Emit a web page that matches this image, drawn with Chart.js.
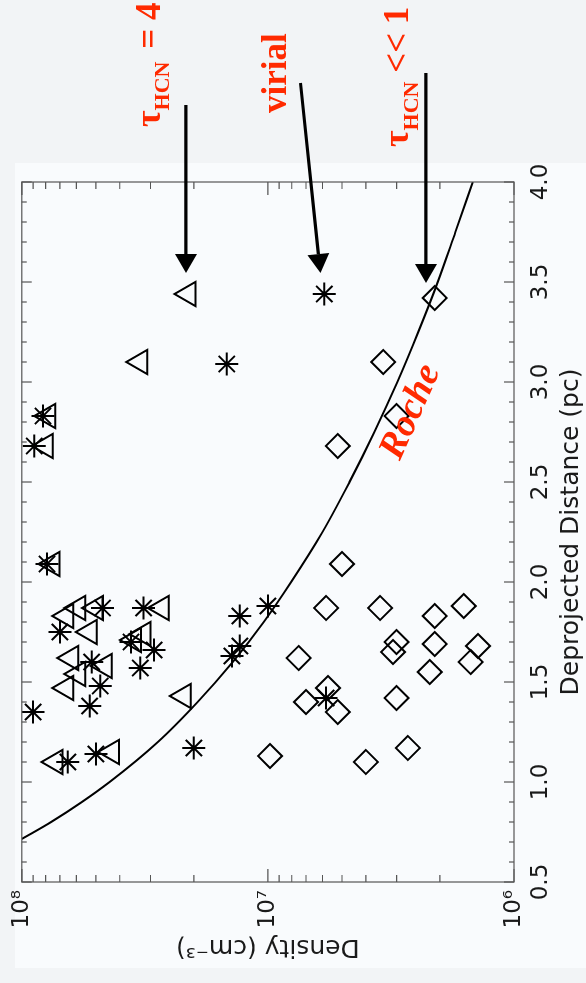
<!DOCTYPE html>
<html>
<head>
<meta charset="utf-8">
<title>Density vs deprojected distance</title>
<script src="https://cdn.jsdelivr.net/npm/chart.js@4.4.1/dist/chart.umd.min.js"></script>
<style>
  html, body { margin: 0; padding: 0; background: #f2f4f6; overflow: hidden; }
  body { width: 586px; height: 983px; position: relative; }
  /* the plot is drawn upright on a 983x586 canvas and turned a quarter left */
  #turn { position: absolute; left: 0; top: 0; width: 983px; height: 586px;
          transform-origin: 0 0; transform: translate(0, 983px) rotate(-90deg); }
</style>
</head>
<body>
<div id="turn"><canvas id="plot" width="983" height="586"></canvas></div>
<script>
// deprojected distance (pc) and density (cm^-3)
var triDist = [3.44, 3.10, 2.83, 2.68, 2.09, 1.87, 1.87, 1.87, 1.83, 1.75, 1.71, 1.74, 1.62, 1.58, 1.54, 1.47, 1.43, 1.15, 1.10];
var triDens = [2.1e7, 3.3e7, 7.8e7, 8.0e7, 7.5e7, 5.9e7, 5.0e7, 2.7e7, 6.6e7, 5.3e7, 3.5e7, 3.2e7, 6.3e7, 4.6e7, 5.9e7, 6.6e7, 2.2e7, 4.3e7, 7.3e7];

var astDist = [3.44, 3.09, 2.83, 2.68, 2.09, 1.87, 1.87, 1.88, 1.83, 1.75, 1.70, 1.68, 1.66, 1.63, 1.60, 1.57, 1.48, 1.42, 1.38, 1.35, 1.17, 1.14, 1.10];
var astDens = [5.9e6, 1.47e7, 8.2e7, 8.9e7, 7.9e7, 4.7e7, 3.2e7, 1.0e7, 1.3e7, 7.0e7, 3.6e7, 1.3e7, 2.9e7, 1.4e7, 5.2e7, 3.3e7, 4.8e7, 5.8e6, 5.3e7, 9.0e7, 2.0e7, 5.0e7, 6.5e7];

var diaDist = [3.42, 3.10, 2.83, 2.68, 2.09, 1.88, 1.87, 1.87, 1.83, 1.70, 1.69, 1.68, 1.65, 1.62, 1.60, 1.55, 1.47, 1.42, 1.40, 1.35, 1.17, 1.13, 1.10];
var diaDens = [2.1e6, 3.4e6, 3.0e6, 5.2e6, 5.0e6, 1.6e6, 5.8e6, 3.5e6, 2.1e6, 3.0e6, 2.1e6, 1.4e6, 3.1e6, 7.5e6, 1.5e6, 2.2e6, 5.7e6, 3.0e6, 7.0e6, 5.2e6, 2.7e6, 9.8e6, 4.0e6];

// Roche limit curve
var rocheDist = [0.715, 0.8, 0.9, 1.0, 1.2, 1.4, 1.6, 1.8, 2.0, 2.25, 2.5, 2.75, 3.0, 3.25, 3.5, 3.75, 4.0];
var rocheDens = [1.0e8, 7.6e7, 5.7e7, 4.4e7, 2.8e7, 1.93e7, 1.39e7, 1.04e7, 8.05e6, 6.0e6, 4.66e6, 3.69e6, 2.98e6, 2.45e6, 2.04e6, 1.73e6, 1.47e6];

var distTicks = [0.5, 1.0, 1.5, 2.0, 2.5, 3.0, 3.5, 4.0];
var densTicks = [1e6, 1e7, 1e8];

var sup = { 6: '\u2076', 7: '\u2077', 8: '\u2078' };
var ink = '#1a1a1a';
var red = '#ff2a00';
var sans = 'DejaVu Sans';

function pts(xs, ys) {
  return xs.map(function (v, i) { return { x: v, y: ys[i] }; });
}

var background = {
  id: 'background',
  beforeDraw: function (chart) {
    var ctx = chart.ctx;
    ctx.save();
    ctx.fillStyle = '#f2f4f6';
    ctx.fillRect(0, 0, chart.width, chart.height);
    ctx.fillStyle = '#f9fbfd';
    ctx.fillRect(15, 15, 805, chart.height - 15);
    ctx.restore();
  }
};

// frame with inward ticks on all four sides
var frame = {
  id: 'frame',
  afterDatasetsDraw: function (chart) {
    var ctx = chart.ctx, a = chart.chartArea;
    var x = chart.scales.x, y = chart.scales.y;
    ctx.save();
    ctx.strokeStyle = '#555';
    ctx.lineWidth = 1.2;
    ctx.strokeRect(a.left, a.top, a.right - a.left, a.bottom - a.top);
    ctx.beginPath();
    for (var i = 5; i <= 40; i++) {
      var px = x.getPixelForValue(i / 10);
      var len = (i % 5 === 0) ? 10 : 5;
      ctx.moveTo(px, a.bottom); ctx.lineTo(px, a.bottom - len);
      ctx.moveTo(px, a.top); ctx.lineTo(px, a.top + len);
    }
    for (var e = 6; e <= 8; e++) {
      for (var m = 1; m <= 9; m++) {
        if (e === 8 && m > 1) break;
        var py = y.getPixelForValue(m * Math.pow(10, e));
        var l2 = (m === 1) ? 13 : 7;
        ctx.moveTo(a.left, py); ctx.lineTo(a.left + l2, py);
        ctx.moveTo(a.right, py); ctx.lineTo(a.right - l2, py);
      }
    }
    ctx.stroke();
    ctx.restore();
  }
};

function arrow(ctx, x0, y0, x1, y1) {
  var ang = Math.atan2(y1 - y0, x1 - x0);
  var hl = 19, hw = 11;
  var bx = x1 - Math.cos(ang) * hl, by = y1 - Math.sin(ang) * hl;
  ctx.beginPath();
  ctx.moveTo(x0, y0); ctx.lineTo(bx, by);
  ctx.stroke();
  ctx.beginPath();
  ctx.moveTo(x1, y1);
  ctx.lineTo(bx - Math.sin(ang) * hw, by + Math.cos(ang) * hw);
  ctx.lineTo(bx + Math.sin(ang) * hw, by - Math.cos(ang) * hw);
  ctx.closePath();
  ctx.fill();
}

function label(ctx, x0, y0, parts) {
  var cx = x0;
  parts.forEach(function (p) {
    ctx.font = (p.style || 'bold') + ' ' + p.size + 'px "Liberation Serif"';
    ctx.fillText(p.text, cx, y0 + (p.dy || 0));
    cx += ctx.measureText(p.text).width + (p.gap || 0);
  });
}

var notes = {
  id: 'notes',
  afterDraw: function (chart) {
    var ctx = chart.ctx;
    var x = chart.scales.x, y = chart.scales.y;
    function X(v) { return x.getPixelForValue(v); }
    function Y(v) { return y.getPixelForValue(v); }
    ctx.save();
    ctx.strokeStyle = '#000';
    ctx.fillStyle = '#000';
    ctx.lineWidth = 3.2;
    arrow(ctx, X(4.385), Y(2.154e7), X(3.545), Y(2.154e7));
    arrow(ctx, X(4.495), Y(7.37e6), X(3.545), Y(6.12e6));
    arrow(ctx, X(4.545), Y(2.28e6), X(3.495), Y(2.28e6));

    ctx.fillStyle = red;
    ctx.textBaseline = 'alphabetic';
    ctx.textAlign = 'left';
    label(ctx, X(4.275), Y(2.75e7), [
      { text: '\u03c4', size: 36 },
      { text: 'HCN', size: 22, dy: 9, gap: 4 },
      { text: ' = 4', size: 35 }
    ]);
    label(ctx, X(4.345), Y(8.47e6), [{ text: 'virial', size: 35 }]);
    label(ctx, X(4.175), Y(2.69e6), [
      { text: '\u03c4', size: 36 },
      { text: 'HCN', size: 22, dy: 10 },
      { text: ' << 1', size: 35 }
    ]);

    // "Roche" runs along the curve, just below it
    var cx = X(2.85), cy = Y(2.62e6);
    ctx.translate(cx, cy);
    ctx.rotate(24 * Math.PI / 180);
    ctx.font = 'italic bold 38px "Liberation Serif"';
    ctx.textAlign = 'center';
    ctx.textBaseline = 'middle';
    ctx.fillText('Roche', 0, 0);
    ctx.restore();
  }
};

var marker = { borderColor: '#000', backgroundColor: 'rgba(0,0,0,0)', borderWidth: 2, showLine: false };

new Chart(document.getElementById('plot'), {
  type: 'scatter',
  data: {
    datasets: [
      { label: 'Roche', data: pts(rocheDist, rocheDens), showLine: true, pointRadius: 0,
        borderColor: '#000', borderWidth: 2, fill: false, cubicInterpolationMode: 'monotone' },
      Object.assign({ label: 'tau = 4', data: pts(triDist, triDens), pointStyle: 'triangle', pointRadius: 14 }, marker),
      Object.assign({ label: 'virial', data: pts(astDist, astDens), pointStyle: 'star', pointRadius: 11.5 }, marker),
      Object.assign({ label: 'tau << 1', data: pts(diaDist, diaDens), pointStyle: 'rectRot', pointRadius: 12 }, marker)
    ]
  },
  options: {
    responsive: false,
    animation: false,
    layout: { padding: { top: 16, right: 182, left: 0, bottom: 0 } },
    plugins: { legend: { display: false }, tooltip: { enabled: false } },
    scales: {
      x: {
        type: 'linear', min: 0.5, max: 4.0, position: 'bottom',
        afterBuildTicks: function (s) { s.ticks = distTicks.map(function (v) { return { value: v }; }); },
        afterFit: function (s) { s.height = 72; },
        ticks: { callback: function (v) { return Number(v).toFixed(1); }, color: ink,
                 font: { family: sans, size: 23 }, padding: 13, maxRotation: 0, autoSkip: false },
        grid: { display: false, drawTicks: false },
        border: { display: false },
        title: { display: true, text: 'Deprojected Distance (pc)', color: ink,
                 font: { family: sans, size: 25 }, padding: { top: 0, bottom: 0 } }
      },
      y: {
        type: 'logarithmic', min: 1e6, max: 1e8, position: 'left',
        afterBuildTicks: function (s) { s.ticks = densTicks.map(function (v) { return { value: v }; }); },
        afterFit: function (s) { s.width = 101; },
        ticks: { callback: function (v) { return '10' + sup[Math.round(Math.log10(v))]; }, color: ink,
                 font: { family: sans, size: 23 }, padding: 8, autoSkip: false },
        grid: { display: false, drawTicks: false },
        border: { display: false },
        title: { display: true, text: 'Density (cm\u207b\u00b3)', color: ink,
                 font: { family: sans, size: 25 }, padding: { top: 21, bottom: 0 } }
      }
    }
  },
  plugins: [background, frame, notes]
});
</script>
</body>
</html>
